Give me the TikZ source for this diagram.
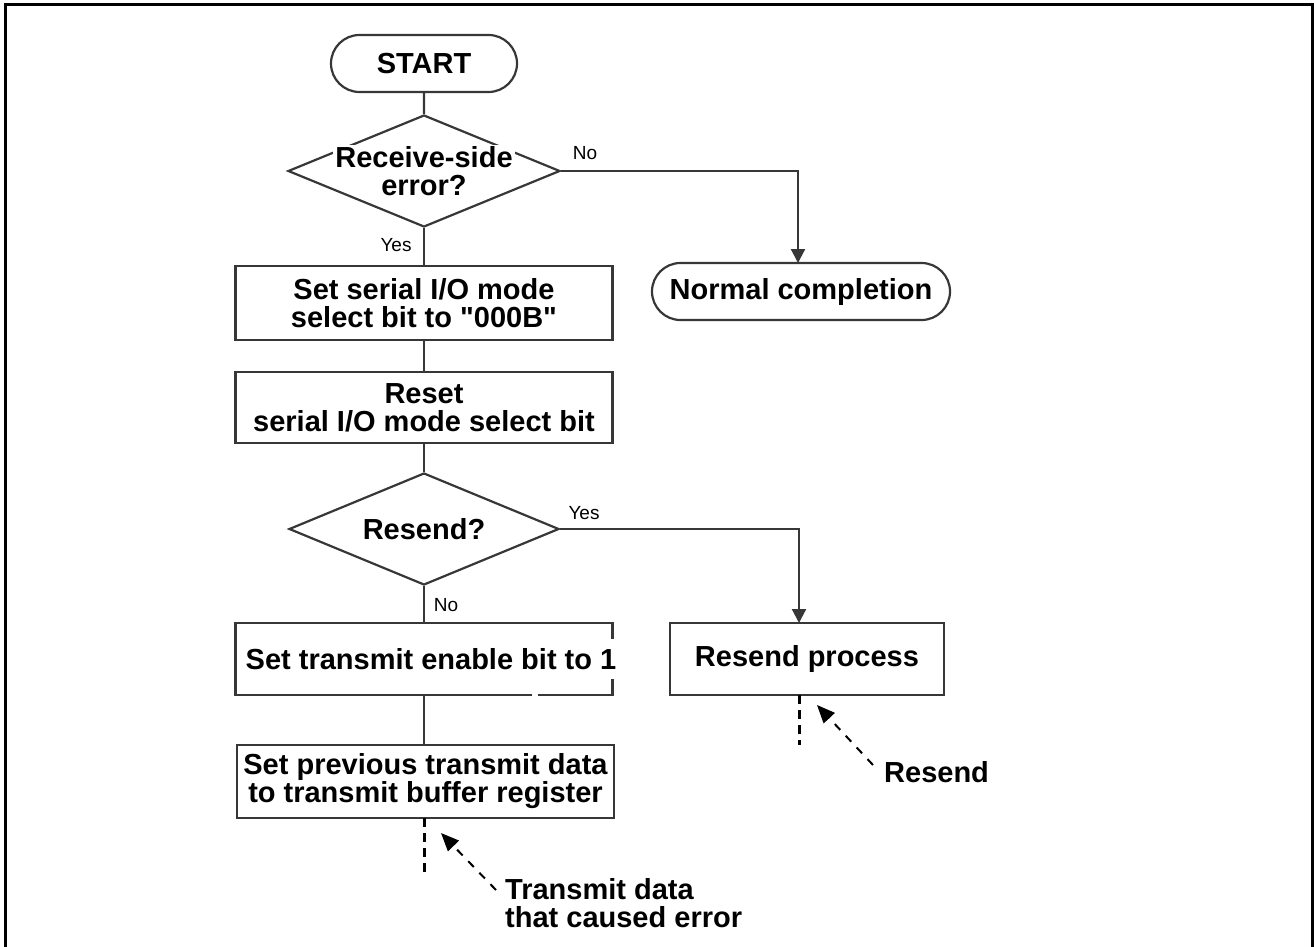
\documentclass[tikz,border=0pt]{standalone}
\usepackage{fontspec}
\setmainfont{Liberation Sans}
\newfontfamily\quotefont{Liberation Sans}[Ligatures=TeXOff]
\usetikzlibrary{shapes.geometric,shapes.misc,arrows.meta}

\definecolor{edge}{RGB}{55,55,55}
\newcommand{\straightq}{{\quotefont\bfseries"}}

\tikzset{
  txt/.style={font=\bfseries\fontsize{29}{28}\selectfont, align=center, text=black},
  lbl/.style={font=\fontsize{19}{20}\selectfont, text=black, inner sep=0pt},
  term/.style={txt, rounded rectangle, draw=edge, line width=2.2pt, inner sep=0pt},
  proc/.style={txt, rectangle, draw=edge, line width=2.2pt, inner sep=0pt},
  dec/.style={diamond, draw=edge, line width=2.2pt, inner sep=0pt},
  flow/.style={draw=edge, line width=2.2pt},
  flowarrow/.style={flow, -{Triangle[width=14pt,length=14pt]}},
  cont/.style={draw=black, line width=3pt, dash pattern=on 9pt off 6pt},
  note/.style={draw=black, line width=2pt, dash pattern=on 8pt off 8pt,
               -{Triangle[width=15pt,length=18pt]}},
}

\begin{document}
\begin{tikzpicture}[x=1pt,y=-1pt]
\useasboundingbox (0,0) rectangle (1314,947);

% outer frame (open at the bottom)
\draw[line width=3pt, black] (5,950) -- (5,5) -- (1312,5) -- (1312,950);

% terminals and process boxes
\node[term, minimum width=186pt, minimum height=57pt] (start) at (424,63.5) {START};
\node[term, minimum width=298pt, minimum height=57pt] (done) at (801,291.5) {Normal completion};
\node[proc, minimum width=377pt, minimum height=74pt] (mode) at (424,303) {Set serial I/O mode\\select bit to \straightq000B\straightq};
\node[proc, minimum width=377pt, minimum height=71pt] (reset) at (424,407.5) {Reset\\serial I/O mode select bit};
\node[proc, minimum width=377pt, minimum height=72pt] (enable) at (424,659) {};
\node[txt, fill=white, inner xsep=1pt, inner ysep=9pt] (enabletxt) at (431,659) {Set transmit enable bit to 1};
\node[proc, minimum width=274pt, minimum height=72pt] (rproc) at (807,659) {Resend process};
\node[proc, minimum width=377pt, minimum height=73pt] (prev) at (425.5,781.5) {Set previous transmit data\\to transmit buffer register};

% decisions: outline and caption
\node[dec, minimum width=272pt, minimum height=112pt] (err) at (424,171) {};
\node[txt, fill=white, inner xsep=2pt, inner ysep=1pt] (errtxt) at (424,157) {Receive-side};
\node[txt, inner sep=0pt] (errtxtb) at (424,186) {error?};
\node[dec, minimum width=270pt, minimum height=112pt] (resend) at (424,529) {};
\node[txt] (resendtxt) at (424,529) {Resend?};

% small break in the lower edge of the enable box
\draw[white, line width=3pt] (532,695) -- (538,695);

% named points for branch ends and annotations
\coordinate (donetop) at (798,263);
\coordinate (rtop) at (799,623);
\coordinate (rbot) at (799,695);
\coordinate (rend) at (799,745);
\coordinate (pbot) at (424,818);
\coordinate (pend) at (424,872);
\coordinate (rtip) at (817,705);
\coordinate (ptip) at (441,833);
\coordinate (rtail) at (873,765);
\coordinate (ptail) at (496,890);

% connectors
\draw[flow] (start) -- (err);
\draw[flow] (err.south) -- (mode.north -| err.south);
\draw[flowarrow] (err.east) -| (donetop);
\draw[flow] (mode) -- (reset);
\draw[flow] (reset.south -| resend.north) -- (resend.north);
\draw[flowarrow] (resend.east) -| (rtop);
\draw[flow] (resend.south) -- (enable.north -| resend.south);
\draw[flow] (enable.south -| pbot) -- (prev.north -| pbot);

% continuation marks
\draw[cont] (rbot) -- (rend);
\draw[cont] (pbot) -- (pend);

% branch labels
\node[lbl] (no1) at (585,153) {No};
\node[lbl] (yes1) at (396,245) {Yes};
\node[lbl] (yes2) at (584,513) {Yes};
\node[lbl] (no2) at (446,605) {No};

% annotations
\node[txt, anchor=west, inner sep=0pt] (rlabel) at (884,772) {Resend};
\node[txt, anchor=west, align=left, inner sep=0pt] (plabel) at (505,903) {Transmit data\\that caused error};
\draw[note] (rtail) -- (rtip);
\draw[note] (ptail) -- (ptip);
\end{tikzpicture}
\end{document}
